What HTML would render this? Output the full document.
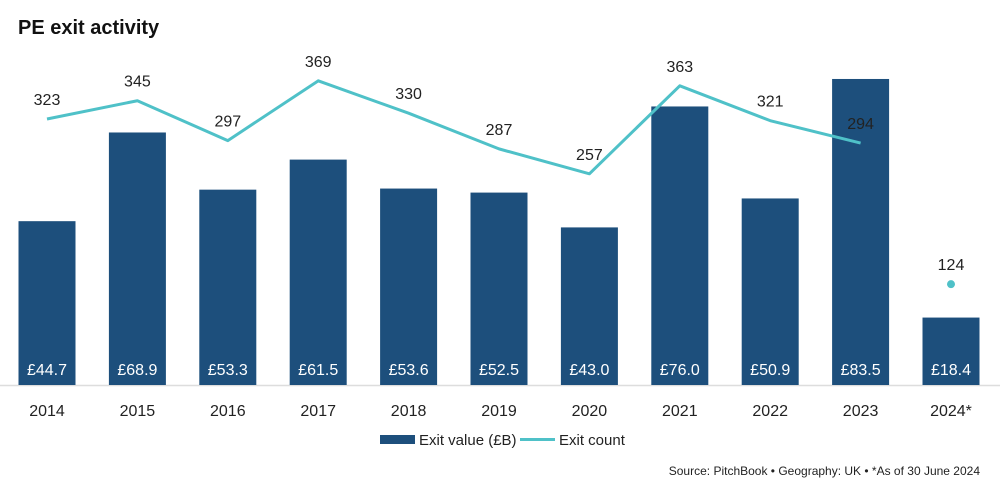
<!DOCTYPE html>
<html><head><meta charset="utf-8"><style>
body{margin:0;background:#fff;width:1000px;height:491px;overflow:hidden;font-family:"Liberation Sans Narrow","Liberation Sans",sans-serif;}
svg text{font-family:"Liberation Sans Narrow","Liberation Sans",sans-serif;}
</style></head><body>
<svg id="c" width="1000" height="491">
<text x="18" y="34" font-family="Liberation Sans" font-weight="bold" font-size="20" fill="#111" style="font-family:'Liberation Sans',sans-serif">PE exit activity</text>
<line x1="0" y1="385.5" x2="1000" y2="385.5" stroke="#ddd" stroke-width="1.5"/>
<g id="bars"></g><g id="line"></g><g id="labels"></g>
<g>
<rect x="380" y="435" width="35" height="9" fill="#1d4f7c"/>
<text x="419" y="445" font-size="15" fill="#222">Exit value (£B)</text>
<line x1="520" y1="439.5" x2="555" y2="439.5" stroke="#4fc1c8" stroke-width="3"/>
<text x="559" y="445" font-size="15" fill="#222">Exit count</text>
</g>
<text x="980" y="475" text-anchor="end" font-size="12" fill="#222" style="font-family:'Liberation Sans',sans-serif">Source: PitchBook  •  Geography: UK  •  *As of 30 June 2024</text>
</svg>
<script>
const years=["2014","2015","2016","2017","2018","2019","2020","2021","2022","2023","2024*"];
const values=[44.7,68.9,53.3,61.5,53.6,52.5,43.0,76.0,50.9,83.5,18.4];
const counts=[323,345,297,369,330,287,257,363,321,294,124];
const NS="http://www.w3.org/2000/svg";
const xC=i=>47+i*90.4;
const yV=v=>385-v*3.665;
const yC=c=>119+(323-c)*0.83;
function mk(t,a,p){const e=document.createElementNS(NS,t);for(const k in a)e.setAttribute(k,a[k]);p.appendChild(e);return e;}
const B=document.getElementById('bars'),L=document.getElementById('line'),T=document.getElementById('labels');
values.forEach((v,i)=>{
 const r=mk('rect',{x:xC(i)-28.5,y:yV(v),width:57,height:385-yV(v),fill:'#1d4f7c'},B);
 
 
 const t=mk('text',{x:xC(i),y:375,'text-anchor':'middle','font-size':16,fill:'#fff'},T);
 t.textContent='£'+v.toFixed(1);
 
 
 const y=mk('text',{x:xC(i),y:416,'text-anchor':'middle','font-size':16,fill:'#222'},T);
 y.textContent=years[i];
 
 
 const c=mk('text',{x:xC(i),y:yC(counts[i])-14,'text-anchor':'middle','font-size':16,fill:'#222'},T);
 c.textContent=counts[i];
 
 
});
const pts=counts.slice(0,10).map((c,i)=>xC(i)+','+yC(c)).join(' ');
const pl=mk('polyline',{points:pts,fill:'none',stroke:'#4fc1c8','stroke-width':3,'stroke-linejoin':'round'},L);


const d=mk('circle',{cx:xC(10),cy:yC(counts[10]),r:4,fill:'#4fc1c8'},L);


</script>
</body></html>
